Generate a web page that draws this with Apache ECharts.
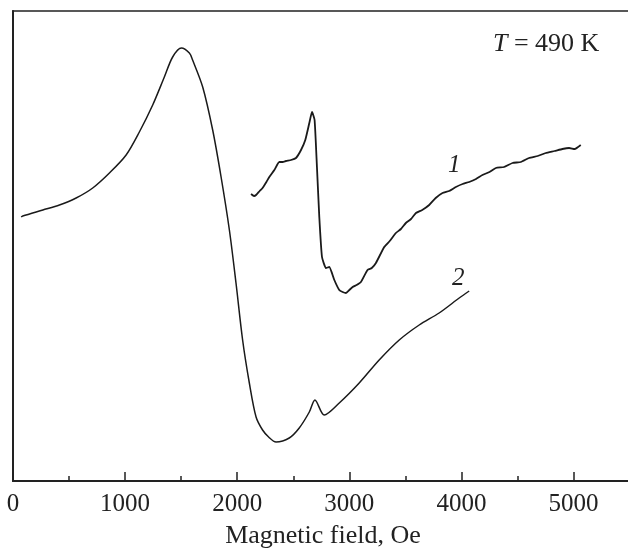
<!DOCTYPE html>
<html>
<head>
  <meta charset="utf-8">
  <style>
    body { margin: 0; background: #fff; }
    #container { width: 628px; height: 548px; }
  </style>
</head>
<body>
  <div id="container"></div>
  <script src="https://cdn.jsdelivr.net/npm/echarts@6/dist/echarts.min.js"></script>
  <script>
    // curve 1: field (Oe) / signal (a.u.)
    var field1 = [2123, 2150, 2168, 2200, 2226, 2260, 2286, 2331, 2375, 2405, 2435, 2480, 2524, 2569, 2607, 2643, 2667, 2690, 2711, 2732, 2756, 2791, 2821, 2866, 2910, 2940, 2970, 3000, 3029, 3065, 3103, 3162, 3200, 3237, 3311, 3360, 3415, 3460, 3504, 3550, 3594, 3650, 3712, 3770, 3831, 3890, 3950, 4010, 4069, 4130, 4187, 4250, 4307, 4380, 4455, 4530, 4603, 4680, 4752, 4830, 4900, 4960, 5010, 5064];
    var signal1 = [287, 285, 286, 290, 293, 299, 304, 311, 319, 319, 320, 321, 323, 331, 341, 358, 369, 361, 314, 264, 224, 213, 214, 201, 191, 189, 188, 191, 194, 196, 199, 211, 213, 218, 234, 240, 248, 252, 258, 262, 268, 271, 276, 283, 288, 290, 294, 297, 299, 302, 306, 309, 313, 314, 318, 319, 323, 325, 328, 330, 332, 333, 332, 336];

    // curve 2
    var field2 = [73, 87, 266, 414, 563, 711, 860, 1009, 1127, 1246, 1350, 1424, 1502, 1573, 1602, 1692, 1781, 1856, 1930, 1989, 2048, 2108, 2168, 2226, 2280, 2346, 2464, 2553, 2643, 2693, 2776, 2910, 3088, 3266, 3445, 3623, 3801, 3980, 4069];
    var signal2 = [264, 265, 271, 276, 283, 293, 308, 326, 349, 376, 404, 424, 433, 428, 421, 394, 351, 304, 251, 198, 141, 98, 64, 51, 44, 39, 43, 53, 69, 81, 66, 78, 98, 121, 141, 156, 168, 183, 190];

    var xTicks = [0, 1000, 2000, 3000, 4000, 5000];

    function pairs(xs, ys) {
      var out = [];
      for (var i = 0; i < xs.length; i++) out.push([xs[i], ys[i]]);
      return out;
    }

    var serif = '"Liberation Serif", "Times New Roman", serif';
    var chart = echarts.init(document.getElementById('container'), null, { renderer: 'canvas' });

    var option = {
      animation: false,
      grid: {
        left: 13, right: -5, top: 11, bottom: 67,
        outerBoundsMode: 'none',
        show: true, borderColor: '#222', borderWidth: 1.5
      },
      xAxis: [
        {
          type: 'value', min: 0, max: 5530, interval: 500,
          axisLine: { lineStyle: { color: '#222', width: 2 } },
          axisTick: { inside: true, length: 5, lineStyle: { color: '#222', width: 1.5 } },
          axisLabel: { show: false },
          splitLine: { show: false }
        },
        {
          type: 'value', min: 0, max: 5530, interval: 1000, position: 'bottom',
          name: 'Magnetic field, Oe', nameLocation: 'middle', nameGap: 42,
          nameTextStyle: { fontFamily: serif, fontSize: 26, color: '#222' },
          axisLine: { show: false },
          axisTick: { inside: true, length: 9, lineStyle: { color: '#222', width: 1.5 } },
          axisLabel: {
            margin: 11, fontFamily: serif, fontSize: 25, color: '#222',
            showMaxLabel: false,
            formatter: function (v) { return xTicks.indexOf(v) >= 0 ? String(v) : ''; }
          },
          splitLine: { show: false }
        }
      ],
      yAxis: {
        type: 'value', min: 0, max: 470,
        axisLine: { show: true, lineStyle: { color: '#222', width: 2 } },
        axisTick: { show: false },
        axisLabel: { show: false },
        splitLine: { show: false }
      },
      series: [
        {
          name: '1', type: 'line', xAxisIndex: 0, data: pairs(field1, signal1),
          showSymbol: false, smooth: 0.15,
          lineStyle: { color: '#1a1a1a', width: 1.8 }
        },
        {
          name: '2', type: 'line', xAxisIndex: 0, data: pairs(field2, signal2),
          showSymbol: false, smooth: 0.3,
          lineStyle: { color: '#1a1a1a', width: 1.5 }
        }
      ],
      graphic: [
        {
          type: 'text', left: 493, top: 31,
          style: {
            text: '{i|T} = 490 K',
            fontFamily: serif, fontSize: 26, fill: '#222',
            rich: { i: { fontStyle: 'italic', fontFamily: serif, fontSize: 26 } }
          }
        },
        {
          type: 'text', left: 448, top: 153,
          style: { text: '1', fontFamily: serif, fontSize: 25, fontStyle: 'italic', fill: '#222' }
        },
        {
          type: 'text', left: 452, top: 266,
          style: { text: '2', fontFamily: serif, fontSize: 25, fontStyle: 'italic', fill: '#222' }
        }
      ]
    };

    chart.setOption(option);
    window.addEventListener('resize', chart.resize);
  </script>
</body>
</html>
